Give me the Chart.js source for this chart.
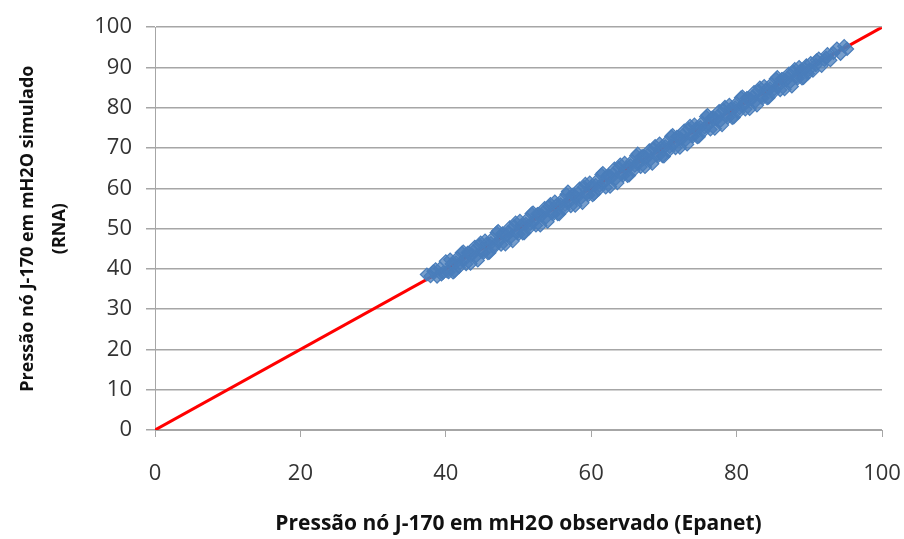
<!DOCTYPE html>
<html>
<head>
<meta charset="utf-8">
<script src="https://cdn.jsdelivr.net/npm/chart.js@4.4.0/dist/chart.umd.min.js"></script>
<style>
  html, body { margin: 0; padding: 0; background: #fff; }
  #wrap { width: 904px; height: 539px; }
</style>
</head>
<body>
<div id="wrap"><canvas id="chart" width="904" height="539"></canvas></div>
<script>
// pressure at node J-170 (mH2O): Epanet observed vs RNA simulated
const observed = [
    37.4, 37.9, 38.3, 38.6, 38.8, 39.2, 39.4, 39.6,
    40.0, 40.4, 40.8, 41.2, 41.6, 42.0, 42.4, 42.8, 43.2, 43.6, 44.0, 44.4,
    44.8, 45.2, 45.6, 46.0, 46.4, 46.8, 47.2, 47.6, 48.0, 48.4, 48.8, 49.2,
    49.6, 50.0, 50.4, 50.8, 51.2, 51.6, 52.0, 52.4, 52.8, 53.2, 53.6, 54.0,
    54.4, 54.8, 55.2, 55.6, 56.0, 56.4, 56.8, 57.2, 57.6, 58.0, 58.4, 58.8,
    59.2, 59.6, 60.0, 60.4, 60.8, 61.2, 61.6, 62.0, 62.4, 62.8, 63.2, 63.6,
    64.0, 64.4, 64.8, 65.2, 65.6, 66.0, 66.4, 66.8, 67.2, 67.6, 68.0, 68.4,
    68.8, 69.2, 69.6, 70.0, 70.4, 70.8, 71.2, 71.6, 72.0, 72.4, 72.8, 73.2,
    73.6, 74.0, 74.4, 74.8, 75.2, 75.6, 76.0, 76.4, 76.8, 77.2, 77.6, 78.0,
    78.4, 78.8, 79.2, 79.6, 80.0, 80.4, 80.8, 81.2, 81.6, 82.0, 82.4, 82.8,
    83.2, 83.6, 84.0, 84.4, 84.8, 85.2, 85.6, 86.0, 86.4, 86.8, 87.2, 87.6,
    88.0, 88.4, 88.8, 89.2, 89.6, 90.0,
    40.2, 40.6, 41.0, 41.4, 41.8, 42.2, 42.6, 43.0, 43.4, 43.8, 44.2, 44.6,
    45.0, 45.4, 45.8, 46.2, 46.6, 47.0, 47.4, 47.8, 48.2, 48.6, 49.0, 49.4,
    49.8, 50.2, 50.6, 51.0, 51.4, 51.8, 52.2, 52.6, 53.0, 53.4, 53.8, 54.2,
    54.6, 55.0, 55.4, 55.8, 56.2, 56.6, 57.0, 57.4, 57.8, 58.2, 58.6, 59.0,
    59.4, 59.8, 60.2, 60.6, 61.0, 61.4, 61.8, 62.2, 62.6, 63.0, 63.4, 63.8,
    64.2, 64.6, 65.0, 65.4, 65.8, 66.2, 66.6, 67.0, 67.4, 67.8, 68.2, 68.6,
    69.0, 69.4, 69.8, 70.2, 70.6, 71.0, 71.4, 71.8, 72.2, 72.6, 73.0, 73.4,
    73.8, 74.2, 74.6, 75.0, 75.4, 75.8, 76.2, 76.6, 77.0, 77.4, 77.8, 78.2,
    78.6, 79.0, 79.4, 79.8, 80.2, 80.6, 81.0, 81.4, 81.8, 82.2, 82.6, 83.0,
    83.4, 83.8, 84.2, 84.6, 85.0, 85.4, 85.8, 86.2, 86.6, 87.0, 87.4, 87.8,
    88.2, 88.6, 89.0, 89.4, 89.8,
    90.2, 90.5, 90.9, 91.0, 91.3, 91.7, 92.1, 92.3, 92.5, 92.9, 93.3, 93.8,
    94.3, 94.8, 95.2
];
const simulated = [
    38.6, 38.2, 39.4, 39.9, 38.1, 40.1, 38.6, 39.0,
    41.9, 39.2, 41.2, 39.4, 42.7, 41.5, 44.3, 41.2, 44.0, 43.5, 45.5, 42.1,
    46.5, 44.0, 46.2, 44.0, 47.5, 46.1, 49.4, 46.0, 48.6, 48.3, 50.3, 46.9,
    51.5, 48.6, 50.8, 48.9, 52.3, 51.1, 54.0, 50.8, 53.6, 53.3, 55.1, 51.7,
    56.1, 53.6, 55.8, 53.6, 57.1, 55.9, 59.2, 55.6, 58.4, 57.7, 59.9, 56.4,
    61.1, 58.3, 60.4, 58.6, 61.9, 60.7, 63.8, 60.2, 63.2, 62.7, 64.9, 61.3,
    65.9, 63.2, 65.0, 63.2, 66.7, 65.6, 68.6, 65.3, 68.0, 67.5, 69.4, 66.1,
    70.5, 68.0, 70.1, 67.9, 71.5, 70.3, 73.2, 70.0, 72.8, 72.2, 74.3, 70.9,
    75.5, 72.9, 74.8, 72.8, 76.2, 75.1, 78.2, 74.6, 77.6, 77.1, 79.2, 75.7,
    80.2, 77.6, 79.7, 77.6, 81.1, 79.9, 82.8, 79.6, 82.4, 82.0, 83.9, 80.6,
    85.0, 82.4, 84.4, 82.5, 85.9, 84.6, 87.6, 84.4, 87.2, 86.8, 88.5, 85.3,
    89.6, 87.3, 89.2, 87.4, 90.5, 89.5,
    39.4, 42.3, 39.1, 41.6, 40.4, 44.0, 42.3, 44.0, 41.3, 44.4, 43.2, 45.9,
    44.2, 47.0, 43.9, 46.4, 45.3, 49.0, 47.1, 48.8, 46.1, 49.2, 48.0, 50.6,
    49.0, 51.9, 48.8, 51.2, 50.0, 53.7, 51.9, 53.6, 50.8, 54.1, 52.8, 55.5,
    53.8, 56.7, 53.6, 56.0, 54.8, 58.5, 56.7, 58.4, 55.7, 58.8, 57.6, 60.3,
    58.6, 61.4, 58.3, 60.8, 59.7, 63.4, 61.5, 63.1, 60.4, 63.6, 62.4, 65.1,
    63.5, 66.3, 63.1, 65.7, 64.4, 68.1, 66.3, 68.0, 65.3, 68.4, 67.2, 69.8,
    68.2, 71.1, 68.0, 70.4, 69.2, 72.9, 71.1, 72.8, 70.1, 73.2, 72.0, 74.7,
    73.0, 75.8, 72.7, 75.2, 74.1, 77.8, 75.9, 77.5, 74.8, 78.0, 76.8, 79.4,
    77.9, 80.7, 77.5, 80.1, 78.8, 82.5, 80.7, 82.4, 79.7, 82.8, 81.6, 84.2,
    82.6, 85.4, 82.4, 84.8, 83.7, 87.2, 85.5, 87.1, 84.6, 87.5, 86.4, 88.9,
    87.5, 90.1, 87.3, 89.6, 88.5,
    91.1, 89.2, 90.6, 91.8, 92.2, 90.4, 91.9, 92.4, 93.3, 91.8, 93.6, 94.7,
    93.4, 95.3, 94.6
];
// reference line y = x
const lineX = [0, 100];
const lineY = [0, 100];

const xTicks = [0, 20, 40, 60, 80, 100];
const yTicks = [0, 10, 20, 30, 40, 50, 60, 70, 80, 90, 100];

const gridColor = '#a6a6a6';
const fontFamily = '"Open Sans", "Liberation Sans", sans-serif';

const points = observed.map((v, i) => ({ x: v, y: simulated[i] }));
const linePts = lineX.map((v, i) => ({ x: v, y: lineY[i] }));

new Chart(document.getElementById('chart'), {
    type: 'scatter',
    data: {
        datasets: [{
            label: 'RNA',
            data: points,
            pointStyle: 'rectRot',
            pointRadius: 6.5,
            borderColor: '#4a7ebb',
            borderWidth: 1.2,
            backgroundColor: 'rgba(74,126,187,0.75)'
        }, {
            type: 'line',
            label: 'y = x',
            data: linePts,
            borderColor: '#ff0000',
            borderWidth: 3,
            pointRadius: 0,
            fill: false
        }]
    },
    options: {
        responsive: false,
        animation: false,
        layout: { padding: { left: 0, right: 0, top: 27, bottom: 0 } },
        plugins: {
            legend: { display: false },
            tooltip: { enabled: false }
        },
        scales: {
            x: {
                type: 'linear',
                min: 0,
                max: 100,
                afterBuildTicks: s => { s.ticks = xTicks.map(v => ({ value: v })); },
                afterFit: s => { s.height = 109; s.paddingRight = 22; s.paddingLeft = 0; },
                grid: { drawOnChartArea: false, color: gridColor, tickLength: 7 },
                border: { color: gridColor },
                ticks: { padding: 24, color: '#333', font: { family: fontFamily, size: 22 } },
                title: {
                    display: true,
                    text: 'Pressão nó J-170 em mH2O observado (Epanet)',
                    color: '#111',
                    font: { family: fontFamily, size: 21, weight: 'bold' },
                    padding: { top: 0, bottom: 2 }
                }
            },
            y: {
                type: 'linear',
                min: 0,
                max: 100,
                afterBuildTicks: s => { s.ticks = yTicks.map(v => ({ value: v })); },
                afterFit: s => { s.width = 155; },
                grid: { color: gridColor, tickLength: 9, lineWidth: 1.5 },
                border: { color: gridColor },
                ticks: { padding: 14, color: '#333', font: { family: fontFamily, size: 22 } },
                title: {
                    display: true,
                    text: ['Pressão nó J-170 em mH2O simulado', '(RNA)'],
                    color: '#111',
                    font: { family: fontFamily, size: 18, weight: 'bold', lineHeight: '32px' },
                    padding: { top: 12, bottom: 0 }
                }
            }
        }
    }
});
</script>
</body>
</html>
